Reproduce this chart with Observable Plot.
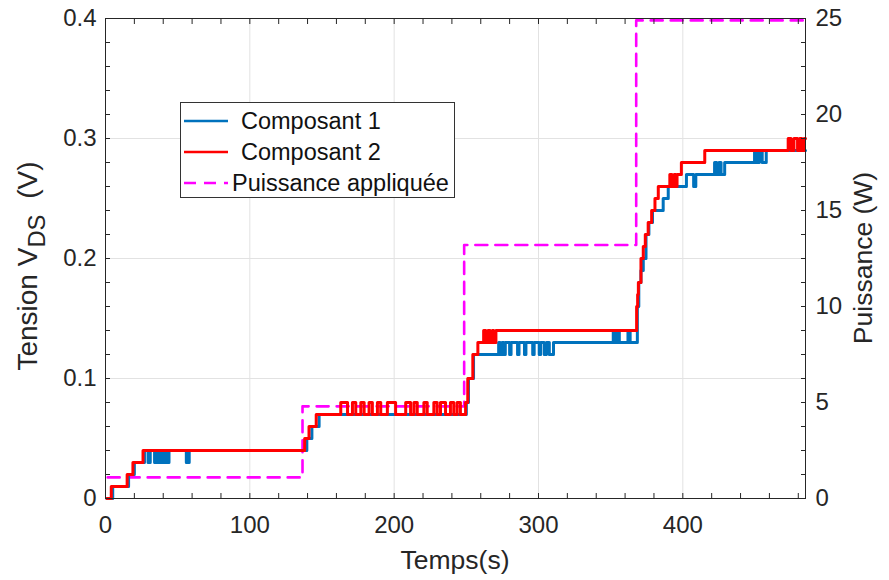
<!DOCTYPE html>
<html>
<head>
<meta charset="utf-8">
<script src="https://cdn.jsdelivr.net/npm/d3@7"></script>
<script src="https://cdn.jsdelivr.net/npm/@observablehq/plot@0.6"></script>
<style>
  body { margin: 0; background: #fff; }
  #wrap { position: relative; width: 889px; height: 580px; font-family: "Liberation Sans", Arial, Helvetica, sans-serif; }
  #legend { position: absolute; left: 180px; top: 102px; width: 275px; height: 96px; box-sizing: border-box;
            border: 1px solid #333; background: #fff; font-size: 23.5px; color: #111; }
  #legend .row { position: absolute; left: 0; height: 30px; display: flex; align-items: center; white-space: nowrap; }
  #legend svg { display: block; }
</style>
</head>
<body>
<div id="wrap"></div>
<script>
// ---- Data ----
// Composant 1 (blue) : change points of a step signal, time (s) -> VDS (V)
const t1 = [1, 5, 16, 20, 27, 29.5, 31, 34, 35.5, 36.5, 37.5, 38.5, 39.5, 40.5, 41.5, 42.5, 44, 56, 58,
            139.5, 143, 148, 250, 251.5, 255, 272.4, 273.5, 274.7, 276, 277,
            280, 281, 285.5, 286.5, 290.3, 291.3, 296, 297, 300.5, 301.5, 304, 305.5, 307.5, 310.4,
            351.8, 353, 355, 356, 362, 363.5,
            368.5, 369.5, 371, 372.6, 374.5, 376.5, 379, 386.4, 389.9, 402.5, 407.5, 409,
            422, 423.5, 425, 426.5, 429, 449.7, 451, 453, 455, 457.8, 485];
const v1 = [0, 0.01, 0.02, 0.03, 0.04, 0.03, 0.04, 0.03, 0.04, 0.03, 0.04, 0.03, 0.04, 0.03, 0.04, 0.03, 0.04, 0.03, 0.04,
            0.05, 0.06, 0.07, 0.08, 0.10, 0.12, 0.13, 0.12, 0.13, 0.12, 0.13,
            0.12, 0.13, 0.12, 0.13, 0.12, 0.13, 0.12, 0.13, 0.12, 0.13, 0.12, 0.13, 0.12, 0.13,
            0.14, 0.13, 0.14, 0.13, 0.14, 0.13,
            0.16, 0.18, 0.19, 0.20, 0.22, 0.23, 0.24, 0.25, 0.26, 0.27, 0.26, 0.27,
            0.28, 0.27, 0.28, 0.27, 0.28, 0.29, 0.28, 0.29, 0.28, 0.29, 0.29];

// Composant 2 (red)
const t2 = [1, 4, 15, 19, 26, 138, 141, 146,
            163, 167.7, 171.1, 173.4, 176.9, 179.2, 182.6, 184.9, 188.4, 190.7, 195.3, 201, 208, 211.4,
            213.7, 216, 220.6, 222.9, 227.5, 229.8, 232.1, 235.6, 239, 241.3, 243.6, 245.9,
            249.5, 251, 254.5, 258, 262, 263.5, 265, 266.5, 268, 269, 270.5,
            368, 368.7, 369.2, 371, 372.6, 374, 376, 378.4, 380.7, 383, 391, 392.5, 394, 395, 396, 399, 415.2,
            473, 475, 477, 479.5, 481, 482.5, 484, 485];
const v2 = [0, 0.01, 0.02, 0.03, 0.04, 0.05, 0.06, 0.07,
            0.08, 0.07, 0.08, 0.07, 0.08, 0.07, 0.08, 0.07, 0.08, 0.07, 0.08, 0.07, 0.08, 0.07,
            0.08, 0.07, 0.08, 0.07, 0.08, 0.07, 0.08, 0.07, 0.08, 0.07, 0.08, 0.07,
            0.08, 0.10, 0.12, 0.13, 0.14, 0.13, 0.14, 0.13, 0.14, 0.13, 0.14,
            0.16, 0.17, 0.18, 0.20, 0.21, 0.22, 0.23, 0.24, 0.25, 0.26, 0.27, 0.26, 0.27, 0.26, 0.27, 0.28, 0.29,
            0.30, 0.29, 0.30, 0.29, 0.30, 0.29, 0.30, 0.30];

// Puissance appliquée (W)
const tP = [1.5, 136.5, 248.5, 367.7, 485];
const pW = [1.1, 4.8, 13.2, 24.9, 24.9];

// Axes
const xMajor = [0, 100, 200, 300, 400];
const xMinor = [20, 40, 60, 80, 120, 140, 160, 180, 220, 240, 260, 280, 320, 340, 360, 380, 420, 440, 460, 480];
const yMajor = [0, 0.1, 0.2, 0.3, 0.4];
const yMinor = [0.02, 0.04, 0.06, 0.08, 0.12, 0.14, 0.16, 0.18, 0.22, 0.24, 0.26, 0.28, 0.32, 0.34, 0.36, 0.38];
const wMajor = [0, 5, 10, 15, 20, 25];
const wMinor = [1.25, 2.5, 3.75, 6.25, 7.5, 8.75, 11.25, 12.5, 13.75, 16.25, 17.5, 18.75, 21.25, 22.5, 23.75];

const W2V = 0.4 / 25;   // right axis (W) mapped onto left axis (V)
const c1 = t1.map((t, i) => ({t, v: v1[i]}));
const c2 = t2.map((t, i) => ({t, v: v2[i]}));
const pw = tP.map((t, i) => ({t, v: pW[i] * W2V}));

const ink = "#262626";
const tickFont = 24;

const plot = Plot.plot({
  width: 889,
  height: 580,
  marginLeft: 105,
  marginRight: 84,
  marginTop: 18,
  marginBottom: 82,
  style: {fontFamily: "'Liberation Sans', Arial, Helvetica, sans-serif", background: "#fff", color: ink, overflow: "visible"},
  x: {domain: [0, 485]},
  y: {domain: [0, 0.4]},
  marks: [
    Plot.gridX(xMajor.slice(1), {stroke: "#e2e2e2", strokeOpacity: 1}),
    Plot.gridY(yMajor.slice(1, 4), {stroke: "#e2e2e2", strokeOpacity: 1}),
    Plot.line(pw, {x: "t", y: "v", curve: "step-after", stroke: "#ff00ff", strokeWidth: 2.6, strokeDasharray: "12,8"}),
    Plot.line(c1, {x: "t", y: "v", curve: "step-after", stroke: "#0072bd", strokeWidth: 3}),
    Plot.line(c2, {x: "t", y: "v", curve: "step-after", stroke: "#ff0000", strokeWidth: 3}),
    Plot.frame({stroke: ink, strokeWidth: 1}),
    // inward ticks (MATLAB style)
    Plot.axisX(xMajor.concat(xMinor), {anchor: "bottom", tickSize: 5, dy: -5, tickFormat: () => "", label: null}),
    Plot.axisX(xMajor.concat(xMinor), {anchor: "top", tickSize: 5, dy: 5, tickFormat: () => "", label: null}),
    Plot.axisY(yMajor.concat(yMinor), {anchor: "left", tickSize: 5, dx: 5, tickFormat: () => "", label: null}),
    Plot.axisY(wMajor.concat(wMinor).map(w => w * W2V), {anchor: "right", tickSize: 5, dx: -5, tickFormat: () => "", label: null}),
    // labels
    Plot.axisX(xMajor, {anchor: "bottom", tickSize: 0, tickPadding: 17, fontSize: tickFont, label: null}),
    Plot.axisY(yMajor, {anchor: "left", tickSize: 0, tickPadding: 9, fontSize: tickFont, label: null,
                        tickFormat: d => d === 0 ? "0" : d3.format(".1f")(d)}),
    Plot.axisY(wMajor.map(w => w * W2V), {anchor: "right", tickSize: 0, tickPadding: 10, fontSize: tickFont, label: null,
                        tickFormat: d => String(Math.round(d / W2V))})
  ]
});

document.getElementById("wrap").appendChild(plot);

// axis titles
const svg = d3.select(plot);
const xr = plot.scale("x").range;
const yr = plot.scale("y").range;
const xMid = (xr[0] + xr[1]) / 2;
const yMid = (yr[0] + yr[1]) / 2;
const titleSize = 26.5;

svg.append("text")
  .attr("x", xMid).attr("y", 569)
  .attr("text-anchor", "middle").attr("font-size", titleSize).attr("fill", ink)
  .text("Temps(s)");

const leftSize = 28;
const lt = svg.append("text")
  .attr("transform", `translate(37,${yMid + 8}) rotate(-90)`)
  .attr("text-anchor", "middle").attr("font-size", leftSize).attr("fill", ink);
lt.append("tspan").text("Tension V");
lt.append("tspan").attr("dy", 8).attr("font-size", leftSize * 0.85).text("DS");
lt.append("tspan").attr("dy", -8).attr("dx", 8).text(" (V)");

svg.append("text")
  .attr("transform", `translate(872,${yMid}) rotate(-90)`)
  .attr("text-anchor", "middle").attr("font-size", titleSize).attr("fill", ink)
  .text("Puissance (W)");

// legend (inside the axes, upper left)
const legendItems = [
  {label: "Composant 1", color: "#0072bd", dash: null, textLeft: 60},
  {label: "Composant 2", color: "#ff0000", dash: null, textLeft: 60},
  {label: "Puissance appliquée", color: "#ff00ff", dash: "12,8", textLeft: 51}
];
const leg = d3.select("#wrap").append("div").attr("id", "legend");
legendItems.forEach((it, i) => {
  const row = leg.append("div").attr("class", "row").style("top", (3 + i * 31) + "px");
  const s = row.append("svg").attr("width", 50).attr("height", 30);
  s.append("line").attr("x1", 3).attr("x2", 47).attr("y1", 15).attr("y2", 15)
    .attr("stroke", it.color).attr("stroke-width", 2.6).attr("stroke-dasharray", it.dash);
  row.append("span").style("margin-left", (it.textLeft - 50) + "px").text(it.label);
});
</script>
</body>
</html>
